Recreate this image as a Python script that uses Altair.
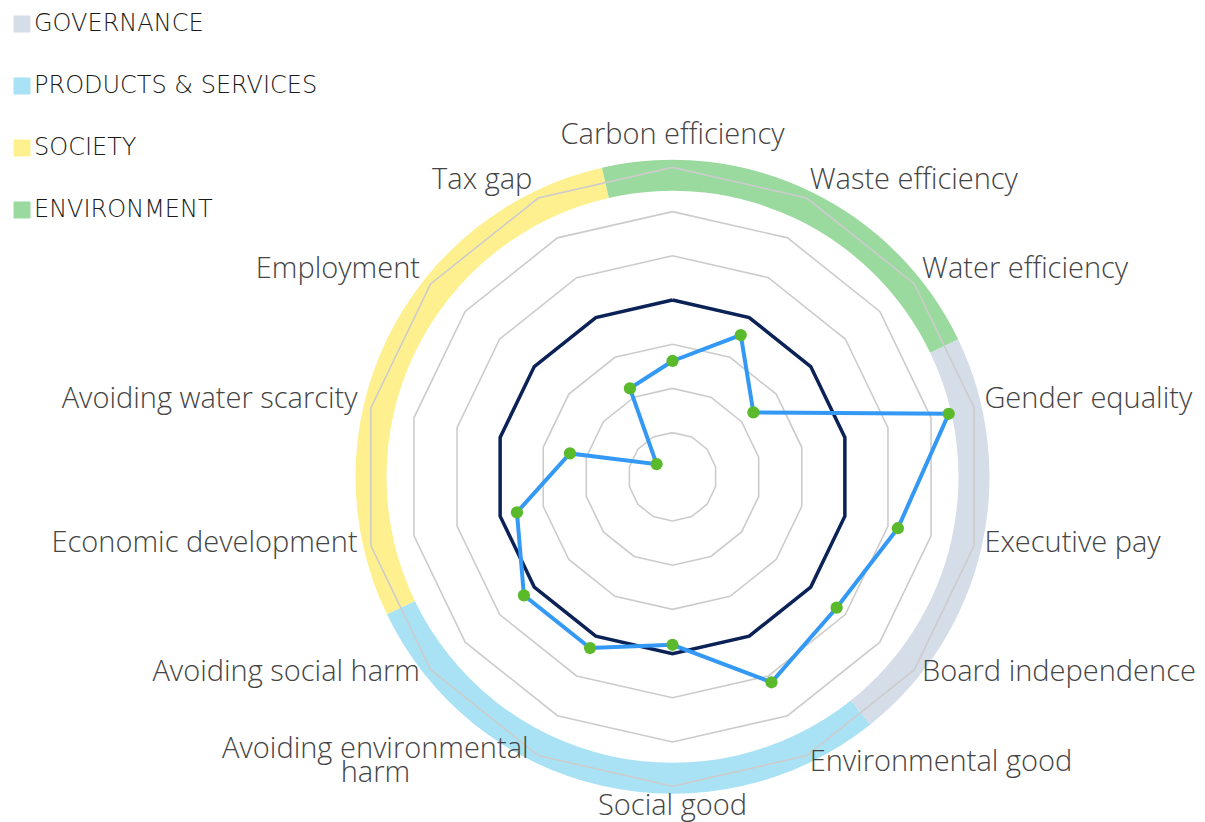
import math
import altair as alt
import pandas as pd

# ---------------- data ----------------
categories = [
    "Carbon efficiency", "Waste efficiency", "Water efficiency",
    "Gender equality", "Executive pay", "Board independence",
    "Environmental good", "Social good", "Avoiding environmental\nharm",
    "Avoiding social harm", "Economic development", "Avoiding water scarcity",
    "Employment", "Tax gap",
]
category_group = [
    "ENVIRONMENT", "ENVIRONMENT", "ENVIRONMENT",
    "GOVERNANCE", "GOVERNANCE", "GOVERNANCE",
    "PRODUCTS & SERVICES", "PRODUCTS & SERVICES", "PRODUCTS & SERVICES", "PRODUCTS & SERVICES",
    "SOCIETY", "SOCIETY", "SOCIETY", "SOCIETY",
]
scores = [2.62, 3.56, 2.34, 6.41, 5.23, 4.75, 5.16, 3.80, 4.30, 4.30, 3.61, 2.38, 0.46, 2.22]
benchmark = [4, 4, 4, 4, 4, 4, 4, 4, 4, 4, 4, 4, 4, 4]
grid_levels = [1, 2, 3, 4, 5, 6, 7]
group_names = ["GOVERNANCE", "PRODUCTS & SERVICES", "SOCIETY", "ENVIRONMENT"]
group_colors = ["#d5dde9", "#a9e2f5", "#fef08f", "#9bda9e"]

N = len(categories)
STEP = 2 * math.pi / N

# ---------------- tables built from the lists ----------------
idx_closed = list(range(N)) + [0]
series_df = pd.DataFrame({
    "idx": idx_closed,
    "ord": list(range(N + 1)),
    "score": [scores[i] for i in idx_closed],
    "bench": [benchmark[i] for i in idx_closed],
})
grid_df = pd.DataFrame([
    {"level": L, "idx": i, "ord": o}
    for L in grid_levels for o, i in enumerate(idx_closed)
])
label_df = pd.DataFrame({"idx": list(range(N)), "label": categories})
band_rows = []
for g in group_names:
    ids = [i for i, cg in enumerate(category_group) if cg == g]
    band_rows.append({"group": g, "t0": (min(ids) - 0.5) * STEP, "t1": (max(ids) + 0.5) * STEP})
band_df = pd.DataFrame(band_rows)

# ---------------- layout ----------------
W, H = 1189, 830
K = 44.2            # pixels per unit
CX, CY = 664.5, 468.8
RL = 323 / K        # label radius in units
xscale = alt.Scale(domain=[-CX / K, (W - CX) / K], nice=False, zero=False)
yscale = alt.Scale(domain=[-(H - CY) / K, CY / K], nice=False, zero=False)

def X(f):
    return alt.X(f, type="quantitative", scale=xscale, axis=None)

def Y(f):
    return alt.Y(f, type="quantitative", scale=yscale, axis=None)

ANG = f"datum.idx*2*PI/{N}"

band = alt.Chart(band_df).transform_calculate(c0="0").mark_arc(
    radius=317, radius2=286, strokeWidth=0
).encode(
    x=X("c0"), y=Y("c0"),
    theta=alt.Theta("t0:Q", scale=None, stack=False),
    theta2=alt.Theta2("t1:Q"),
    color=alt.Color(
        "group:N",
        scale=alt.Scale(domain=group_names, range=group_colors),
        legend=alt.Legend(
            title=None, orient="none", legendX=2, legendY=4,
            symbolType="square", symbolSize=289, symbolStrokeWidth=0,
            symbolOpacity=1,
            labelFont="DejaVu Sans", labelFontSize=24, labelFontWeight=300,
            labelColor="#1a1a1a",
            labelOffset=0, rowPadding=38, padding=0, labelLimit=500,
        ),
    ),
)

grid = alt.Chart(grid_df).transform_calculate(
    ang=ANG, x="datum.level*sin(datum.ang)", y="datum.level*cos(datum.ang)"
).mark_line(color="#cccccc", strokeWidth=1.6).encode(
    x=X("x"), y=Y("y"), detail="level:N", order="ord:Q"
)

navy = alt.Chart(series_df).transform_calculate(
    ang=ANG, x="datum.bench*sin(datum.ang)", y="datum.bench*cos(datum.ang)"
).mark_line(color="#0b2257", strokeWidth=3.5).encode(
    x=X("x"), y=Y("y"), order="ord:Q"
)

score_base = alt.Chart(series_df).transform_calculate(
    ang=ANG, x="datum.score*sin(datum.ang)", y="datum.score*cos(datum.ang)"
)
blue = score_base.mark_line(color="#3399f5", strokeWidth=4).encode(
    x=X("x"), y=Y("y"), order="ord:Q"
)
pts = score_base.transform_filter("datum.ord < %d" % N).mark_circle(
    size=150, color="#5bba2b", opacity=1
).encode(x=X("x"), y=Y("y"))

lab_base = alt.Chart(label_df).transform_calculate(
    ang=ANG, lx=f"{RL}*sin(datum.ang)", ly=f"{RL}*cos(datum.ang)"
)
font = dict(font="Open Sans", fontSize=29, fontWeight=300, color="#444444")
lab_right = lab_base.transform_filter(f"datum.idx > 0 && datum.idx < {N//2}").mark_text(
    align="left", baseline="middle", dx=-3, dy=-6, **font
).encode(x=X("lx"), y=Y("ly"), text="label:N")
lab_left = lab_base.transform_filter(
    f"datum.idx > {N//2} && indexof(datum.label, '\\n') < 0"
).mark_text(align="right", baseline="middle", dy=-6, **font).encode(
    x=X("lx"), y=Y("ly"), text="label:N")
lab_top = lab_base.transform_filter("datum.idx == 0").mark_text(
    align="center", baseline="bottom", dy=-4, **font
).encode(x=X("lx"), y=Y("ly"), text="label:N")
lab_bottom = lab_base.transform_filter(f"datum.idx == {N//2}").mark_text(
    align="center", baseline="top", dy=-8, **font
).encode(x=X("lx"), y=Y("ly"), text="label:N")
lab_multi = lab_base.transform_filter("indexof(datum.label, '\\n') >= 0").mark_text(
    align="center", baseline="middle", dx=-157, dy=-19, lineBreak="\n", lineHeight=24, **font
).encode(x=X("lx"), y=Y("ly"), text="label:N")

chart = alt.layer(
    band, grid, navy, blue, pts, lab_right, lab_left, lab_top, lab_bottom, lab_multi
).properties(
    width=W, height=H, padding=0, autosize=alt.AutoSizeParams(type="none")
).configure_view(stroke=None)

chart.save("out.html", embed_options={"renderer": "svg", "actions": False})
